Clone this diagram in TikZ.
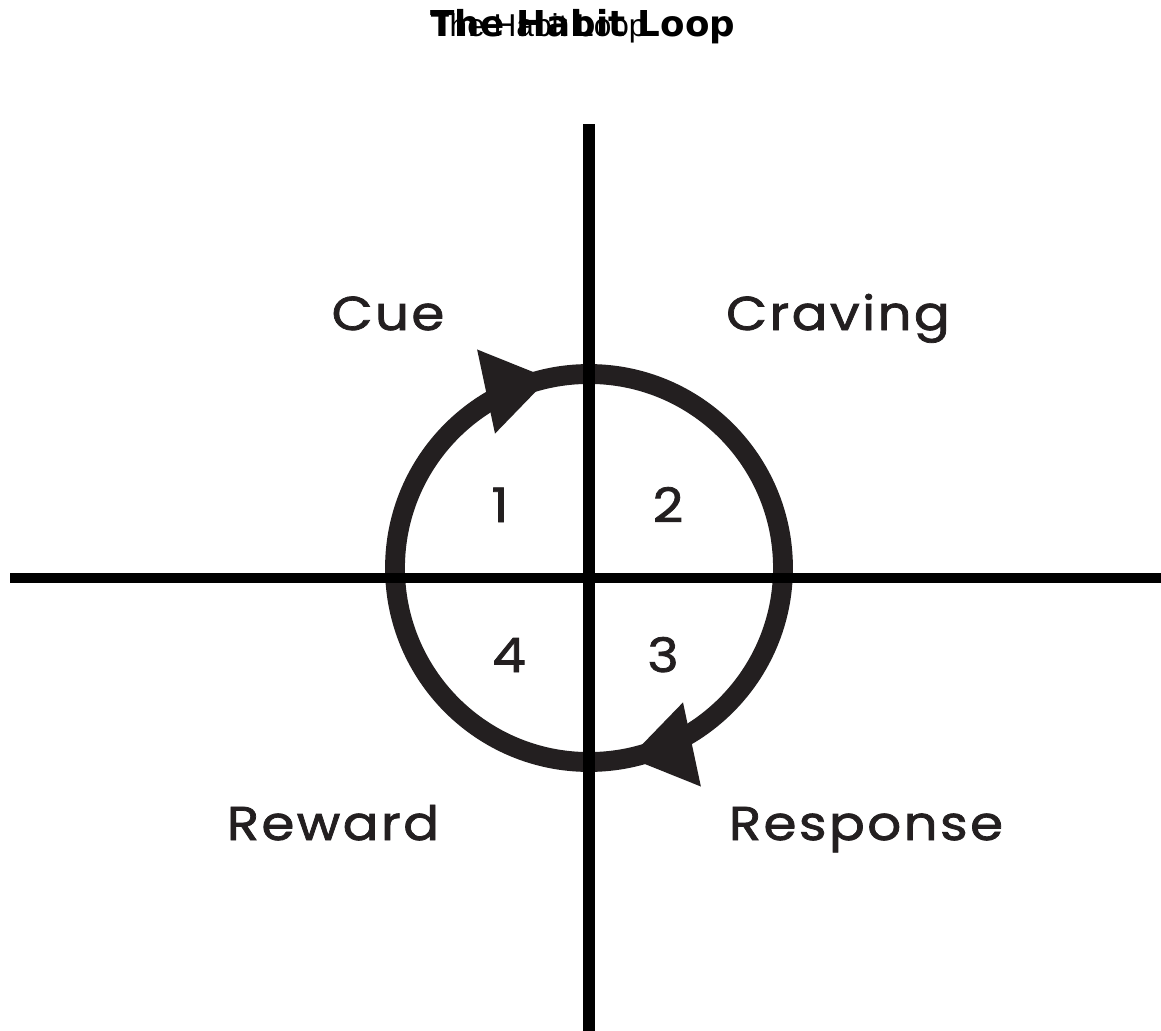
\documentclass[tikz,border=0pt]{standalone}
\usepackage{fontspec}
\usepackage{tikz}
\usetikzlibrary{calc}
\newfontfamily\stepfont[LetterSpace=5,FakeStretch=1.12,FakeBold=1.6]{Poppins}
\newfontfamily\headbold{DejaVu Sans}
\newfontfamily\headplain{Liberation Sans}
\definecolor{ink}{HTML}{231F20}
\definecolor{axisink}{HTML}{000000}
\tikzset{
  axisline/.style={draw=axisink,line width=6.6pt,line cap=butt},
  loopring/.style={draw=ink,line width=11.3pt},
  looptip/.style={fill=ink},
  steplabel/.style={font=\stepfont\fontsize{27}{30}\selectfont,
                    text=ink,inner sep=0pt,anchor=base},
  stepnum/.style={font=\stepfont\fontsize{27}{30}\selectfont,
                  text=ink,inner sep=0pt,anchor=base}
}

\begin{document}
\begin{tikzpicture}[x=0.02cm,y=-0.02cm]
  \path[use as bounding box,fill=white] (0,0) rectangle (1161,1031);
  % title, printed twice over itself
  \node[anchor=base west,inner sep=0pt,font=\headbold\bfseries\fontsize{20.3}{24}\selectfont]
    (titlebold) at (430,36) {The Habit Loop};
  \node[anchor=base west,inner sep=0pt,font=\headplain\fontsize{18}{21}\selectfont]
    (titleplain) at (430,36) {The Habit Loop};

  % the loop
  \coordinate (hub) at (589,568);
  \draw[loopring] (hub) circle[radius=194];
  \path (hub) ++(258:194) coordinate (cuetip) ++(168:64) coordinate (cueback);
  \fill[looptip] (cuetip) -- ($(cueback)+(258:43)$) -- ($(cueback)+(78:43)$) -- cycle;
  \path (hub) ++(78:194) coordinate (resptip) ++(348:64) coordinate (respback);
  \fill[looptip] (resptip) -- ($(respback)+(78:43)$) -- ($(respback)+(258:43)$) -- cycle;

  % axes
  \coordinate (vtop) at (589,124);
  \coordinate (vbot) at (589,1031);
  \coordinate (hleft) at (10,578);
  \coordinate (hright) at (1161,578);
  \draw[axisline] (vtop) -- (vbot);
  \draw[axisline,line width=6.2pt] (hleft) -- (hright);

  % stages
  \node[steplabel] (cue) at (388,330) {Cue};
  \node[steplabel] (craving) at (838,330) {Craving};
  \node[steplabel] (reward) at (333,840) {Reward};
  \node[steplabel] (response) at (866,840) {Response};

  \node[stepnum] (one) at (500,522) {1};
  \node[stepnum] (two) at (668,522) {2};
  \node[stepnum] (three) at (663,672) {3};
  \node[stepnum] (four) at (509,672) {4};
\end{tikzpicture}
\end{document}
